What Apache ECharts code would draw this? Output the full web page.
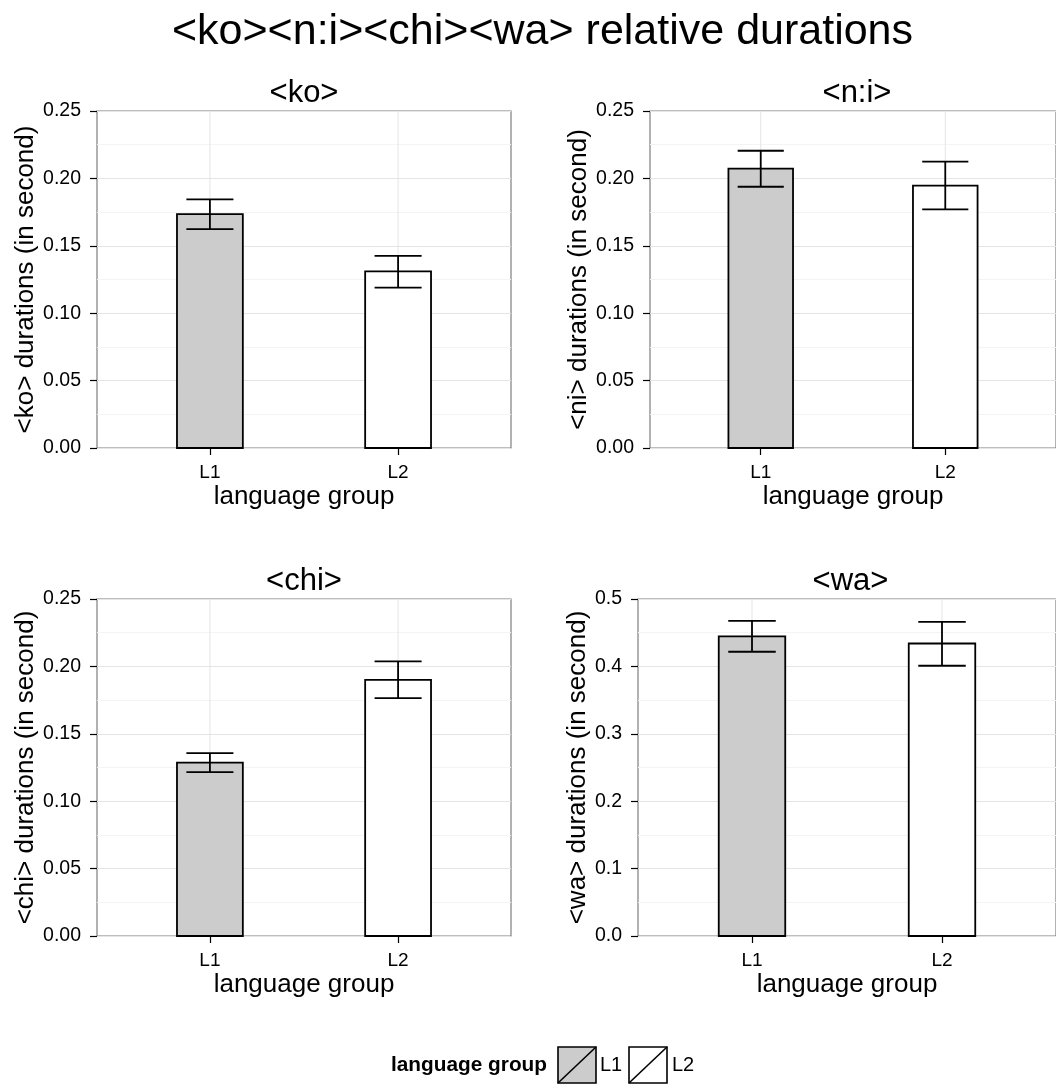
<!DOCTYPE html>
<html>
<head>
<meta charset="utf-8">
<title>relative durations</title>
<script src="https://cdn.jsdelivr.net/npm/echarts@6.0.0/dist/echarts.min.js"></script>
<style>
  html, body { margin: 0; padding: 0; background: #fff; }
  #main { width: 1056px; height: 1084px; }
</style>
</head>
<body>
<div id="main"></div>
<script>
// data
const panelTitles = ['<ko>', '<n:i>', '<chi>', '<wa>'];
const yTitles = ['<ko> durations (in second)', '<ni> durations (in second)', '<chi> durations (in second)', '<wa> durations (in second)'];
const groups = ['L1', 'L2'];
const means = [
  [0.1735, 0.131],
  [0.2072, 0.1946],
  [0.1286, 0.190],
  [0.4445, 0.434]
];
const lower = [
  [0.1624, 0.119],
  [0.1938, 0.177],
  [0.1215, 0.1765],
  [0.4217, 0.401]
];
const upper = [
  [0.1844, 0.1426],
  [0.2205, 0.2124],
  [0.1356, 0.2037],
  [0.4675, 0.466]
];
const yMax = [0.25, 0.25, 0.25, 0.5];
const yStep = [0.05, 0.05, 0.05, 0.1];
const yDecimals = [2, 2, 2, 1];

// layout (panels of the right column run past the right edge, as in the reference)
const grids = [
  { left: 97, top: 111, width: 414, height: 337, nameGap: 57 },
  { left: 650, top: 111, width: 414, height: 337, nameGap: 57 },
  { left: 97, top: 599, width: 414, height: 337, nameGap: 57 },
  { left: 638, top: 599, width: 425, height: 337, nameGap: 47 }
];
const FONT = 'Liberation Sans, Arial, Helvetica, sans-serif';
const fills = ['#cccccc', '#ffffff'];
const BAR_W = 0.35;
const CAP_W = 0.25;

var chartDom = document.getElementById('main');
var myChart = echarts.init(chartDom, null, { renderer: 'canvas' });

function makeRender(p) {
  return function (params, api) {
    var x = api.value(0);
    var base = api.coord([x, 0]);
    var top = api.coord([x, api.value(1)]);
    var lo = api.coord([x, api.value(2)]);
    var hi = api.coord([x, api.value(3)]);
    var gTop = api.coord([x, yMax[p]]);
    var bw = api.size([BAR_W, 0])[0];
    var cw = api.size([CAP_W, 0])[0];
    var cx = base[0];
    var black = { stroke: '#000', lineWidth: 1.8 };
    return {
      type: 'group',
      children: [
        // vertical grid line behind the bar
        { type: 'line', shape: { x1: cx, y1: gTop[1], x2: cx, y2: base[1] }, style: { stroke: '#e5e5e5', lineWidth: 1 } },
        { type: 'rect', shape: { x: cx - bw / 2, y: top[1], width: bw, height: base[1] - top[1] },
          style: { fill: fills[params.dataIndex], stroke: '#000', lineWidth: 1.8 } },
        { type: 'line', shape: { x1: cx, y1: lo[1], x2: cx, y2: hi[1] }, style: black },
        { type: 'line', shape: { x1: cx - cw / 2, y1: lo[1], x2: cx + cw / 2, y2: lo[1] }, style: black },
        { type: 'line', shape: { x1: cx - cw / 2, y1: hi[1], x2: cx + cw / 2, y2: hi[1] }, style: black }
      ]
    };
  };
}

var option = {
  animation: false,
  backgroundColor: '#ffffff',
  textStyle: { fontFamily: FONT },
  grid: grids.map(function (g) {
    return {
      left: g.left, top: g.top, width: g.width, height: g.height,
      show: true, backgroundColor: '#ffffff', borderColor: '#7f7f7f', borderWidth: 1.2
    };
  }),
  xAxis: grids.map(function (g, p) {
    return {
      type: 'value', gridIndex: p, min: 0.4, max: 2.6,
      name: 'language group', nameLocation: 'middle', nameGap: 36,
      nameTextStyle: { fontSize: 26, color: '#000', fontFamily: FONT },
      axisLine: { show: false },
      splitLine: { show: false },
      axisTick: { show: true, customValues: [1, 2], length: 7, lineStyle: { color: '#000', width: 1.2 } },
      axisLabel: {
        customValues: [1, 2], margin: 15, fontSize: 19, color: '#000', fontFamily: FONT,
        formatter: function (v) { return groups[Math.round(v) - 1]; }
      }
    };
  }),
  yAxis: grids.map(function (g, p) {
    return {
      type: 'value', gridIndex: p, min: 0, max: yMax[p], interval: yStep[p],
      name: yTitles[p], nameLocation: 'middle', nameGap: g.nameGap,
      nameTextStyle: { fontSize: 26, color: '#000', fontFamily: FONT },
      axisLine: { show: false },
      axisTick: { show: true, length: 7, lineStyle: { color: '#000', width: 1.2 } },
      axisLabel: {
        margin: 16, fontSize: 19.5, color: '#000', fontFamily: FONT,
        formatter: function (v) { return v.toFixed(yDecimals[p]); }
      },
      splitLine: { show: true, lineStyle: { color: '#e5e5e5', width: 1 } },
      minorTick: { show: false, splitNumber: 2 },
      minorSplitLine: { show: true, lineStyle: { color: '#f4f4f4', width: 1 } }
    };
  }),
  series: grids.map(function (g, p) {
    return {
      type: 'custom',
      xAxisIndex: p,
      yAxisIndex: p,
      renderItem: makeRender(p),
      data: groups.map(function (name, i) {
        return [i + 1, means[p][i], lower[p][i], upper[p][i]];
      })
    };
  }),
  graphic: [
    {
      type: 'text', x: 542.5, y: 32,
      style: { text: '<ko><n:i><chi><wa> relative durations', fontSize: 43, fontFamily: FONT, fill: '#000', align: 'center', verticalAlign: 'middle' }
    }
  ].concat(grids.map(function (g, p) {
    return {
      type: 'text', x: g.left + g.width / 2, y: g.top - 18,
      style: { text: panelTitles[p], fontSize: 31, fontFamily: FONT, fill: '#000', align: 'center', verticalAlign: 'middle' }
    };
  })).concat([
    {
      type: 'text', x: 547, y: 1065,
      style: { text: 'language group', fontSize: 20.8, fontWeight: 'bold', fontFamily: FONT, fill: '#000', align: 'right', verticalAlign: 'middle' }
    },
    { type: 'rect', shape: { x: 558, y: 1047, width: 38, height: 36 }, style: { fill: fills[0], stroke: '#000', lineWidth: 1.6 } },
    { type: 'line', shape: { x1: 558, y1: 1083, x2: 596, y2: 1047 }, style: { stroke: '#000', lineWidth: 1.6 } },
    { type: 'text', x: 600, y: 1065, style: { text: groups[0], fontSize: 20, fontFamily: FONT, fill: '#000', align: 'left', verticalAlign: 'middle' } },
    { type: 'rect', shape: { x: 629, y: 1047, width: 38, height: 36 }, style: { fill: fills[1], stroke: '#000', lineWidth: 1.6 } },
    { type: 'line', shape: { x1: 629, y1: 1083, x2: 667, y2: 1047 }, style: { stroke: '#000', lineWidth: 1.6 } },
    { type: 'text', x: 672, y: 1065, style: { text: groups[1], fontSize: 20, fontFamily: FONT, fill: '#000', align: 'left', verticalAlign: 'middle' } }
  ])
};

option && myChart.setOption(option);
</script>
</body>
</html>
